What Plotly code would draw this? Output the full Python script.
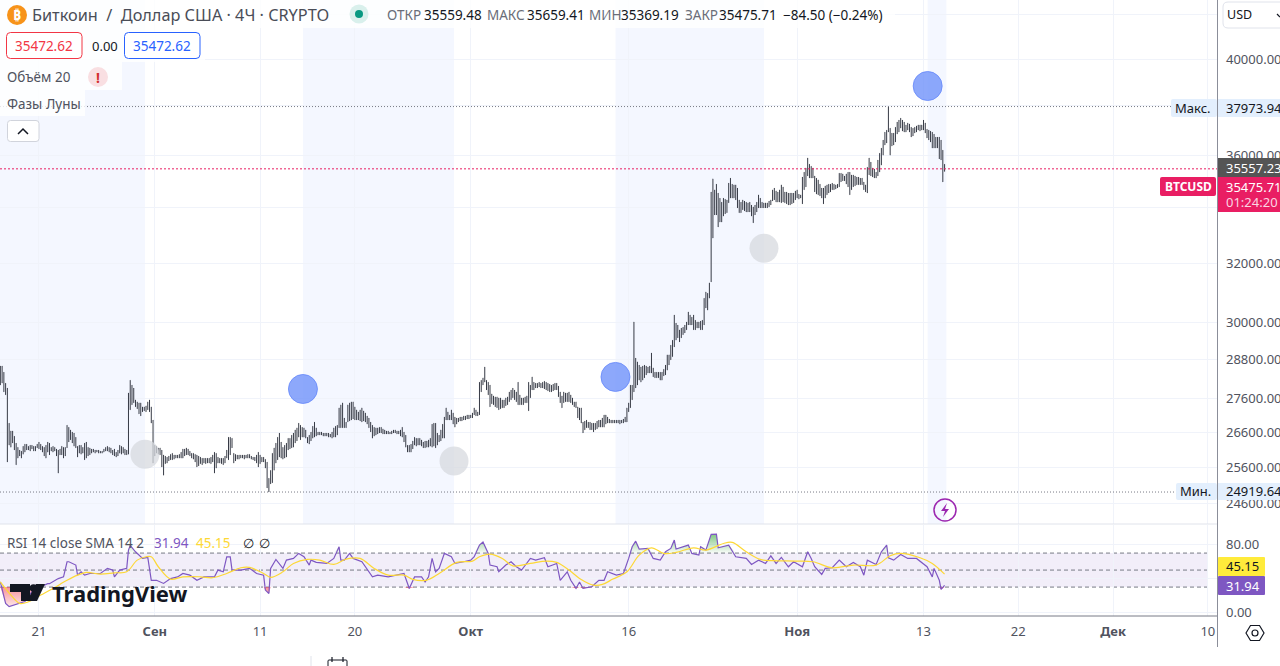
import pandas as pd
import plotly.graph_objects as go

W, H = 1280, 666

# BTCUSD 4h bars, six bars per line (open/close ticks are not legible at this scale)
bar_high = [
    28600, 28600, 28410, 28070, 27920, 26870, 26640, 26640, 26490, 26290, 26170, 26090,
    26060, 26200, 26260, 26260, 26200, 26230, 26230, 26200, 26200, 26260, 26320, 26260,
    26200, 26170, 26230, 26320, 26290, 26170, 26200, 26170, 26120, 26090, 26120, 26200,
    26170, 26170, 26810, 26750, 26670, 26610, 26580, 26460, 26200, 26230, 26230, 26170,
    26290, 26320, 26170, 26150, 26120, 26120, 26090, 26090, 26090, 26060, 26060, 26120,
    26170, 26200, 26170, 26150, 26090, 26120, 26030, 26090, 26230, 26200, 26170, 26120,
    26090, 27770, 28160, 28010, 27920, 27560, 27500, 27470, 27470, 27350, 27350, 27380,
    27500, 27560, 27350, 26960, 26230, 26200, 26150, 26150, 26090, 25950, 25920, 25890,
    25920, 25970, 26000, 25950, 25950, 25950, 25970, 26030, 26120, 26120, 26150, 26120,
    26060, 26000, 26000, 25970, 25950, 25920, 25890, 25860, 25860, 25860, 25860, 25860,
    25890, 25950, 26030, 26000, 25890, 25860, 25860, 25860, 25920, 26090, 26460, 26460,
    26430, 26000, 25970, 25950, 25950, 25950, 25950, 25950, 25950, 25970, 25970, 25920,
    25890, 25890, 25950, 26030, 25950, 25890, 25890, 25830, 25750, 25300, 25520, 26000,
    26150, 26290, 26460, 26580, 26320, 26170, 26230, 26290, 26430, 26430, 26520, 26580,
    26670, 26730, 26870, 26810, 26750, 26730, 26670, 26460, 26520, 26610, 26780, 26900,
    26730, 26610, 26610, 26610, 26580, 26580, 26580, 26580, 26550, 26610, 26730, 26780,
    26810, 27320, 27410, 27470, 27020, 26900, 27410, 27470, 27500, 27500, 27350, 27260,
    27200, 27260, 27320, 27230, 27170, 27080, 27020, 26900, 26810, 26750, 26730, 26730,
    26750, 26750, 26700, 26670, 26640, 26640, 26610, 26640, 26670, 26670, 26640,
    26640, 26670, 26750, 26610, 26520, 26230, 26230, 26260, 26350, 26460, 26430, 26430,
    26430, 26380, 26320, 26350, 26350, 26380, 26430, 26840, 26870, 26870, 26580, 26520,
    26670, 26840, 27050, 27320, 27200, 27110, 27260, 27170, 27050, 27020, 27020, 27050,
    27050, 27080, 27080, 27110, 27110, 27110, 27170, 27320, 27260, 27200, 28100, 28160,
    28230, 28570, 28160, 28100, 28010, 27740, 27680, 27650, 27650, 27620, 27620, 27560,
    27560, 27620, 27650, 27800, 27860, 27920, 27860, 27800, 28100, 27710, 27620, 27620,
    27650, 27680, 28100, 28010, 28260, 28100, 28070, 28070, 28100, 28070, 28100, 28130,
    28100, 28070, 28040, 28010, 28040, 28070, 28070, 27980, 27800, 27680, 27800, 27770,
    27770, 27800, 27710, 27620, 27500, 27500, 27350, 27320, 27320, 26900, 26930, 26960,
    26900, 26900, 26870, 26870, 26870, 26930, 26960, 26960, 27020, 27110, 27110, 27050,
    26990, 26960, 26960, 26960, 26960, 26960, 26960, 26960, 26990, 27050, 27320, 27470,
    28010, 28010, 30010, 28850, 28730, 28630, 28570, 28600, 28630, 28600, 28570, 28600,
    29010, 28540, 28410, 28410, 28410, 28410, 28410, 28500, 28630, 28950, 28950, 29260,
    29420, 30240, 29975, 29910, 29750, 29810, 29840, 29910, 30010, 30340, 30240, 30170,
    30240, 30070, 30010, 30010, 30040, 30070, 30800, 31010, 30970, 31320, 34590, 35090,
    34670, 34890, 34550, 34360, 34210, 34360, 34320, 34290, 34930, 35120, 34890, 34860,
    34860, 34740, 34290, 34210, 34290, 34250, 34210, 34180, 34210, 34100, 34030, 34100,
    34210, 34480, 34360, 34210, 34180, 34180, 34180, 34250, 34290, 34670, 34740, 34630,
    34590, 34670, 34860, 34780, 34590, 34590, 34550, 34550, 34550, 34550, 34630, 34670,
    34510, 34480, 35160, 35350, 35510, 35900, 35660, 35580, 35510, 35200, 35120, 35050,
    34890, 34740, 34740, 34820, 34860, 34890, 34890, 34930, 34890, 34860, 34890, 35310,
    35310, 35280, 35200, 35280, 35350, 35350, 35240, 35240, 35200, 35160, 35160, 35120,
    35120, 34970, 34860, 35540, 35900, 35740, 35510, 35470, 35350, 35820, 36090, 36290,
    36610, 36930, 37010, 37973.94, 37090, 36890, 36890, 37130, 37340, 37420, 37500, 37420,
    37340, 37220, 37300, 37260, 37130, 37090, 37130, 37180, 37220, 37220, 37220, 37420,
    37300, 37050, 37010, 36970, 36930, 36850, 36730, 36730, 36730, 36610, 36210, 35659.41,
]
bar_low = [
    28010, 28070, 27800, 27710, 25750, 26230, 26170, 26290, 26090, 25670, 25860, 25920,
    25860, 25970, 26030, 26090, 26090, 26060, 26120, 26060, 26060, 26150, 26120, 26090,
    26030, 25920, 25860, 26030, 25950, 26060, 26030, 26060, 25920, 25440, 25950, 25950,
    25860, 25920, 26150, 26320, 26380, 26290, 26200, 26150, 25890, 26000, 25970, 26000,
    25810, 25860, 25920, 25950, 26000, 26030, 26000, 26030, 26000, 26000, 26000, 26030,
    26060, 26060, 26030, 26000, 25950, 25920, 25890, 25920, 26000, 25970, 26000, 25950,
    25950, 25970, 27260, 27410, 27470, 27350, 27290, 27140, 27080, 27200, 27230, 27200,
    27260, 27200, 26870, 25720, 25920, 26000, 25970, 25950, 25610, 25380, 25700, 25720,
    25780, 25810, 25810, 25830, 25860, 25860, 25860, 25860, 25860, 25920, 25950, 25950,
    25920, 25860, 25830, 25750, 25610, 25640, 25700, 25670, 25720, 25700, 25720, 25720,
    25700, 25750, 25440, 25580, 25720, 25720, 25700, 25670, 25720, 25860, 25810, 25950,
    26150, 25720, 25780, 25830, 25830, 25860, 25860, 25830, 25860, 25860, 25860, 25830,
    25810, 25780, 25720, 25610, 25700, 25750, 25750, 25580, 25030, 24919.64, 25140, 25170,
    25520, 25720, 25810, 25890, 25860, 25830, 25860, 25890, 26090, 26120, 26150, 26170,
    26290, 26350, 26460, 26380, 26460, 26460, 26430, 26290, 26260, 26350, 26430, 26460,
    26490, 26520, 26520, 26520, 26490, 26490, 26490, 26460, 26460, 26430, 26460, 26460,
    26520, 26730, 26730, 26730, 26730, 26730, 26900, 26930, 26960, 26990, 26960, 26960,
    26960, 26930, 26900, 26930, 26900, 26840, 26730, 26610, 26430, 26490, 26520, 26550,
    26580, 26580, 26550, 26550, 26550, 26550, 26550, 26550, 26580, 26580, 26550,
    26550, 26490, 26460, 26320, 26170, 26030, 26030, 26030, 26120, 26230, 26200, 26230,
    26230, 26200, 26150, 26150, 26170, 26170, 26200, 26170, 26200, 26150, 26230, 26320,
    26350, 26430, 26430, 26960, 26960, 26960, 26960, 26840, 26750, 26840, 26900, 26930,
    26930, 26960, 26960, 26990, 26990, 27020, 27020, 27110, 27080, 27080, 27110, 27800,
    28010, 28100, 27860, 27710, 27350, 27440, 27410, 27350, 27320, 27260, 27290, 27320,
    27320, 27380, 27410, 27500, 27560, 27620, 27560, 27500, 27410, 27410, 27410, 27410,
    27470, 27470, 27230, 27620, 27860, 27860, 27920, 27920, 27950, 27920, 27920, 27890,
    27860, 27830, 27800, 27800, 27830, 27860, 27860, 27650, 27470, 27320, 27470, 27500,
    27500, 27500, 27470, 27410, 27350, 27320, 27020, 26960, 26870, 26580, 26670, 26730,
    26730, 26670, 26670, 26610, 26670, 26700, 26750, 26750, 26750, 26750, 26840, 26870,
    26870, 26870, 26870, 26870, 26870, 26870, 26840, 26870, 26870, 26900, 26900, 27200,
    27320, 27560, 27800, 27920, 28010, 28160, 28100, 28160, 28230, 28320, 28380, 28380,
    28380, 28260, 28230, 28230, 28230, 28160, 28160, 28290, 28320, 28470, 28630, 28790,
    28890, 29200, 29420, 29490, 29360, 29490, 29590, 29650, 29750, 29910, 29910, 29910,
    29750, 29750, 29810, 29810, 29750, 29750, 29910, 30470, 30400, 30800, 31350, 32890,
    33730, 33730, 33290, 33470, 33470, 33690, 33770, 33810, 34180, 34360, 34360, 34360,
    34290, 33990, 33810, 33810, 33920, 33880, 33840, 33840, 33840, 33690, 33440, 33730,
    33840, 33990, 33990, 33990, 33990, 33990, 33990, 34030, 34100, 34250, 34290, 34210,
    34210, 34210, 34180, 34210, 34180, 34140, 34100, 34100, 34140, 34180, 34290, 34360,
    34320, 34360, 34140, 34670, 34780, 35200, 35120, 35120, 35120, 34590, 34510, 34480,
    34440, 34360, 34140, 34360, 34480, 34550, 34590, 34670, 34670, 34700, 34740, 34780,
    34970, 35010, 35010, 34890, 34780, 34480, 34670, 34780, 34820, 34860, 34860, 34860,
    34860, 34670, 34590, 34550, 35240, 35200, 35160, 35120, 35120, 35200, 35350, 35620,
    36010, 36410, 36490, 36930, 36010, 36370, 36410, 36530, 36850, 36930, 37090, 36970,
    36930, 36930, 37010, 36930, 36730, 36770, 36890, 36930, 37010, 36970, 37010, 37010,
    36890, 36690, 36610, 36530, 36290, 36290, 36290, 36290, 35860, 35820, 34970, 35369.19,
]

# RSI and its SMA, sampled where the line turns: index of the 4h bar, then value
rsi_bar = [
    0, 3, 5, 8, 11, 14, 18, 23, 27, 28, 33, 36, 38, 39, 43, 44, 46, 48, 51, 53, 57, 61, 64, 65, 68, 72, 73, 74,
    77, 81, 84, 86, 89, 93, 97, 101, 104, 108, 112, 116, 120, 122, 124, 127, 129, 131, 132, 137, 142, 146, 150,
    151, 153, 154, 157, 159, 161, 163, 167, 170, 173, 176, 177, 180, 186, 190, 193, 194, 196, 199, 201, 206, 208,
    212, 215, 221, 230, 233, 236, 240, 242, 244, 246, 248, 250, 253, 257, 259, 264, 268, 270, 273, 275, 278, 279,
    283, 284, 288, 291, 294, 297, 302, 305, 310, 312, 317, 319, 323, 325, 328, 330, 332, 337, 341, 344, 346, 351,
    355, 358, 360, 362, 364, 369, 372, 376, 379, 382, 384, 385, 392, 394, 398, 399, 402, 405, 408, 409, 415, 419,
    425, 428, 432, 436, 439, 442, 445, 449, 452, 457, 460, 462, 464, 468, 470, 474, 478, 482, 486, 490, 492, 494,
    499, 502, 505, 506, 509, 513, 517, 522, 526, 528, 531, 532, 535, 536, 538,
]
rsi_value = [
    36, 10.8, 7, 9, 10.8, 13, 24.5, 30.4, 34, 34, 40, 42, 59.8, 59.8, 55.9, 44, 48, 44, 46, 46, 46, 52, 50, 42, 50, 52, 73.5, 79,
    71.5, 63.7, 64.9, 38, 38, 34.3, 40, 42, 46, 44, 38, 42, 42, 42, 50, 48, 65.6, 65.6, 50, 50, 52, 46, 44,
    26.5, 22.5, 52, 62.5, 57.8, 52, 61.7, 63.7, 69.6, 65.7, 55.9, 61.7, 59, 57.8, 63.7, 77.4, 61.7, 61.7, 69.6, 63.7, 59.8, 53.9,
    42, 44, 42, 46, 28.4, 42, 42, 36, 42, 63.7, 48, 52, 69.6, 65.7, 57.8, 59.8, 61.7, 65.7, 79.4, 83, 69.6, 55.9,
    53.9, 48, 55.9, 59.8, 53.9, 50, 63.7, 61.7, 64.5, 53.9, 57.8, 38, 48, 38, 28.4, 36, 28.4, 30.4, 38, 38, 48, 44,
    46, 63.7, 77.4, 84, 74.7, 75.5, 63.7, 61.7, 71.5, 75.5, 85.3, 74.7, 79.4, 69.6, 67.6, 77.4, 73.5, 92, 92.3, 76.2, 79.4, 65.7,
    63.7, 56.6, 61.7, 57.8, 66.8, 57.8, 64.9, 53.9, 59.8, 53.9, 71.5, 63.7, 53.9, 44.9, 52, 52.7, 61.7, 53.9, 59, 53.9, 44, 61.7,
    56.6, 71.5, 79.4, 64.5, 61.7, 68.4, 63.7, 63.7, 57.8, 53.9, 42, 52, 38, 27.2, 31.94,
]
sma_bar = [
    0, 6, 11, 16, 23, 30, 38, 44, 49, 57, 65, 72, 78, 83, 86, 90, 97, 104, 114, 121, 129, 137, 142, 150, 154, 161, 167, 175,
    182, 190, 197, 205, 213, 221, 230, 235, 243, 250, 260, 269, 273, 279, 286, 292, 302, 311, 317, 324, 330, 338, 343, 349,
    357, 364, 371, 378, 385, 395, 402, 412, 417, 425, 433, 440, 453, 463, 474, 486, 499, 507, 513, 524, 531, 538,
]
sma_value = [
    36, 20.6, 10.8, 12.7, 20.6, 28.4, 38, 44, 47.2, 45.3, 46.8, 48, 61.7, 65.7, 65.7, 53.9, 39.4, 42.1, 42.1, 41, 46, 52.7, 53.1, 46, 41.4, 48, 57.8, 62.5,
    61.7, 56.6, 62.9, 63.7, 51.9, 44.1, 44.1, 39, 38.2, 46, 59, 60.6, 65.7, 68.8, 63.7, 55, 57.8, 60.6, 59, 50, 40.2, 32.3, 33.1, 39.4,
    48, 67.6, 76.2, 69.6, 70.8, 76.2, 73.5, 81.3, 82.5, 71.5, 62.5, 61, 60.6, 59.8, 52.7, 55.9, 55.9, 66.8, 69.6, 64.5, 57.8, 45.15,
]

# moon phases
new_moon_date = ["2023-09-15 01:40", "2023-10-14 17:55", "2023-11-13 09:27"]
new_moon_price = [27890, 28260, 38837]
full_moon_date = ["2023-08-31 01:35", "2023-09-29 09:57", "2023-10-28 20:24"]
full_moon_price = [25970, 25780, 32530]

last_bar_date = "2023-11-15 04:00"
first_date, last_date = "2023-08-17 07:12", "2023-12-10 20:53"

price_max, price_min = 37973.94, 24919.64
last_close = 35475.71

price_ticks = [42000, 40000, 38000, 36000, 34000, 32000, 30000, 28800, 27600, 26600, 25600, 24600]
# 42000 and 38000 keep their grid line, their labels sit under the USD and max boxes
price_labels = ["", "40000.00", "", "36000.00", "34000.00", "32000.00", "30000.00", "28800.00",
                "27600.00", "26600.00", "25600.00", "24600.00"]
rsi_ticks = [80, 40, 0]
rsi_labels = ["80.00", "", "0.00"]
time_ticks = ["2023-08-21", "2023-09-01", "2023-09-11", "2023-09-20", "2023-10-01", "2023-10-16",
              "2023-11-01", "2023-11-13", "2023-11-22", "2023-12-01", "2023-12-10"]
time_labels = ["21", "<b>Сен</b>", "11", "20", "<b>Окт</b>", "16", "<b>Ноя</b>", "13", "22", "<b>Дек</b>", "10"]

FONT = "Noto Sans"
GRID = "#f0f3fa"
GRAY = "#787b86"
TEXT = "#50535e"
PINK = "#e91e63"
PURPLE = "#7e57c2"
YELLOW = "#fdd835"
BAND = "rgba(41,98,255,0.05)"


def px(x):
    return x / W


def py(y):
    return 1 - y / H


bar_time = pd.date_range("2023-08-17 08:00", periods=len(bar_high), freq="4h")
rsi_time = [bar_time[i] for i in rsi_bar]
sma_time = [bar_time[i] for i in sma_bar]

fig = go.Figure()

fig.add_trace(go.Ohlc(
    x=bar_time, open=bar_low, high=bar_high, low=bar_low, close=bar_high, tickwidth=0.05,
    increasing_line=dict(color="#363a45", width=1), decreasing_line=dict(color="#363a45", width=1),
    xaxis="x", yaxis="y",
))
fig.add_trace(go.Scatter(
    x=new_moon_date, y=new_moon_price, mode="markers", xaxis="x", yaxis="y",
    marker=dict(size=29, color="rgba(112,146,250,0.8)", line=dict(width=1, color="rgba(100,135,250,0.8)")),
))
fig.add_trace(go.Scatter(
    x=full_moon_date, y=full_moon_price, mode="markers", xaxis="x", yaxis="y",
    marker=dict(size=29, color="rgba(215,217,223,0.75)", line=dict(width=0)),
))

# overbought / oversold fill of the RSI
for level, part, ramp in [
    (70, [max(v, 70) for v in rsi_value], [[0, "rgba(76,175,80,0.04)"], [1, "rgba(76,175,80,0.7)"]]),
    (30, [min(v, 30) for v in rsi_value], [[0, "rgba(242,54,69,0.12)"], [1, "rgba(242,54,69,0.55)"]]),
]:
    fig.add_trace(go.Scatter(x=rsi_time, y=[level] * len(rsi_time), mode="lines", line=dict(width=0),
                             xaxis="x2", yaxis="y2"))
    fig.add_trace(go.Scatter(x=rsi_time, y=part, mode="lines", line=dict(width=0), fill="tonexty",
                             fillgradient=dict(type="vertical", colorscale=ramp), xaxis="x2", yaxis="y2"))

fig.add_trace(go.Scatter(x=rsi_time, y=rsi_value, mode="lines", line=dict(color=PURPLE, width=1.2),
                         xaxis="x2", yaxis="y2"))
fig.add_trace(go.Scatter(x=sma_time, y=sma_value, mode="lines", line=dict(color=YELLOW, width=1.2, shape="spline"),
                         xaxis="x2", yaxis="y2"))

shapes = []

# moon bands: from each new moon to the following full moon
main_bottom = py(524)
band_edges = [(first_date, full_moon_date[0]), (new_moon_date[0], full_moon_date[1]),
              (new_moon_date[1], full_moon_date[2]), (new_moon_date[2], last_bar_date)]
for start, end in band_edges:
    shapes.append(dict(type="rect", xref="x", yref="paper", x0=start, x1=end, y0=main_bottom, y1=1,
                       fillcolor=BAND, line_width=0, layer="below"))

# RSI band and its dashed levels
shapes.append(dict(type="rect", xref="x2", yref="y2", x0=first_date, x1="2023-12-10", y0=30, y1=70,
                   fillcolor="rgba(126,87,194,0.1)", line_width=0, layer="below"))
for level in [70, 50, 30]:
    shapes.append(dict(type="line", xref="x2", yref="y2", x0=first_date, x1="2023-12-10", y0=level, y1=level,
                       line=dict(color=GRAY, width=1, dash="4px,3px"), layer="below"))

# max, min and last price lines
shapes.append(dict(type="line", xref="paper", yref="y", x0=0, x1=px(1171), y0=price_max, y1=price_max,
                   line=dict(color=GRAY, width=1, dash="1px,2px")))
shapes.append(dict(type="line", xref="paper", yref="y", x0=0, x1=px(1176), y0=price_min, y1=price_min,
                   line=dict(color=GRAY, width=1, dash="1px,2px")))
shapes.append(dict(type="line", xref="paper", yref="y", x0=0, x1=px(1217), y0=last_close, y1=last_close,
                   line=dict(color=PINK, width=1, dash="2px,2px")))


def box(x0, y0, x1, y1, fill, line=None, r=0, opacity=1):
    if r == 0:
        shapes.append(dict(type="rect", xref="paper", yref="paper", x0=px(x0), x1=px(x1), y0=py(y1), y1=py(y0),
                           fillcolor=fill, line=dict(width=1 if line else 0, color=line or fill), opacity=opacity))
        return
    a, b, c, d = px(x0), px(x1), py(y0), py(y1)
    rx, ry = r / W, r / H
    path = (f"M{a + rx},{c} L{b - rx},{c} Q{b},{c} {b},{c - ry} L{b},{d + ry} Q{b},{d} {b - rx},{d} "
            f"L{a + rx},{d} Q{a},{d} {a},{d + ry} L{a},{c - ry} Q{a},{c} {a + rx},{c} Z")
    shapes.append(dict(type="path", xref="paper", yref="paper", path=path, fillcolor=fill,
                       line=dict(width=1 if line else 0, color=line or fill), opacity=opacity))


def circle(cx, cy, r, fill="rgba(0,0,0,0)", line=None, width=1.5):
    shapes.append(dict(type="circle", xref="paper", yref="paper", x0=px(cx - r), x1=px(cx + r),
                       y0=py(cy + r), y1=py(cy - r), fillcolor=fill,
                       line=dict(width=width if line else 0, color=line or fill)))


def poly(points, fill="rgba(0,0,0,0)", line=None, width=1.5, close=True):
    path = "M" + " L".join(f"{px(x)},{py(y)}" for x, y in points) + (" Z" if close else "")
    shapes.append(dict(type="path", xref="paper", yref="paper", path=path, fillcolor=fill,
                       line=dict(width=width if line else 0, color=line or fill)))


# pane borders
poly([(0, 524), (1217, 524)], line="#e0e3eb", width=1, close=False)
poly([(0, 616), (1217, 616)], line="#787b86", width=1, close=False)
poly([(1217.5, 0), (1217.5, 647)], line="#8b8e99", width=1, close=False)

# legend backgrounds
box(0, 0, 895, 28, "white", opacity=0.8)
box(0, 28, 205, 62, "white", opacity=0.8)
box(0, 62, 122, 90, "white", opacity=0.8)
box(0, 90, 85, 116, "white", opacity=0.8)

# legend widgets
circle(17, 15, 10, fill="#f7931a")
circle(359, 14, 9.5, fill="#d9f0ec")
circle(359, 14, 4, fill="#089981")
box(6.5, 32.5, 82, 58.5, "white", line="#f23645", r=4)
box(124.5, 32.5, 200, 58.5, "white", line="#2962ff", r=4)
circle(98, 77, 10, fill="#f9dfe2")
box(7.5, 120.5, 39, 141.5, "white", line="#d1d4dc", r=3)
poly([(18, 134), (23, 129), (28, 134)], line="#131722", width=1.5, close=False)

# price scale labels
box(1171, 99, 1217, 117, "#e3effd", r=2)
box(1218, 99, 1280, 117, "#e3effd")
box(1176, 483, 1217, 500, "#e3effd", r=2)
box(1218, 483, 1280, 500, "#e3effd")
box(1218, 158, 1280, 177, "#555555")
box(1218, 177, 1280, 212, PINK)
box(1160, 177, 1216, 196, PINK, r=2)
box(1218, 557, 1265, 576, "#ffeb3b", r=1)
box(1218, 576, 1265, 595, PURPLE, r=1)
box(1223, 2, 1290, 28, "white", line="#e0e3eb", r=5)
poly([(1277, 14), (1280, 17)], line="#131722", width=1.2, close=False)

# TradingView logo
poly([(10, 584), (30, 584), (30, 601), (21, 601), (21, 592), (10, 592)], fill="#131722")
circle(33.5, 588, 3.8, fill="#131722")
poly([(36, 584), (45, 584), (37, 601), (27, 601)], fill="#131722")

# lightning badge
circle(945, 510, 11, line="#9c27b0")
poly([(947, 503), (941, 511), (945, 511), (943, 517), (949, 509), (945, 509)], fill="#9c27b0")

# settings hexagon
poly([(1246, 633), (1250.5, 625.5), (1259.5, 625.5), (1264, 633), (1259.5, 640.5), (1250.5, 640.5)],
     line="#131722", width=1.2)
circle(1255, 633, 3, line="#131722", width=1.2)

# bottom toolbar
poly([(311, 656), (311, 666)], line="#e0e3eb", width=1, close=False)
box(328, 660, 347, 672, "white", line="#131722", r=1)
poly([(332, 657), (332, 662)], line="#131722", width=1.2, close=False)
poly([(343, 657), (343, 662)], line="#131722", width=1.2, close=False)

annotations = []


def note(x, y, text, size=13, color=TEXT, anchor="left", font=FONT):
    annotations.append(dict(xref="paper", yref="paper", x=px(x), y=py(y), text=text, showarrow=False,
                            xanchor=anchor, yanchor="middle", align=anchor, borderpad=0, borderwidth=0,
                            font=dict(family=font, size=size, color=color)))


note(17, 15, "<b>₿</b>", 14, "white", "center")
note(32, 15, "Биткоин  /  Доллар США · 4Ч · CRYPTO", 16.3, "#4a4d57")
for x, text, colour in [
    (387, "ОТКР", "#6a6d78"), (424, "35559.48", "#131722"), (487, "МАКС", "#6a6d78"), (527, "35659.41", "#131722"),
    (589, "МИН", "#6a6d78"), (621, "35369.19", "#131722"), (685, "ЗАКР", "#6a6d78"), (719, "35475.71", "#131722"),
    (783, "−84.50 (−0.24%)", "#131722"),
]:
    note(x, 15, text, 13.5, colour)
note(15, 46, "35472.62", 13.5, "#f23645")
note(92, 46, "0.00", 13, "#131722")
note(133, 46, "35472.62", 13.5, "#2962ff")
note(7, 77, "Объём 20", 13.5)
note(98, 77, "<b>!</b>", 14, "#d32f2f", "center")
note(7, 104, "Фазы Луны", 13.5)
note(7, 543, "RSI 14 close SMA 14 2", 13.5)
note(154, 543, "31.94", 13.5, PURPLE)
note(196, 543, "45.15", 13.5, YELLOW)
note(243, 543, "∅", 13, "#131722")
note(259, 543, "∅", 13, "#131722")
note(52, 593, "<b>TradingView</b>", 22, "#131722")

note(1227, 15, "USD", 12.5, "#131722")
note(1211, 108, "Макс.", 13, "#131722", "right")
note(1226, 108, "37973.94", 13, "#131722")
note(1211, 491, "Мин.", 13, "#131722", "right")
note(1226, 491, "24919.64", 13, "#131722")
note(1226, 168, "35557.23", 13, "white")
note(1226, 187, "35475.71", 13, "white")
note(1226, 202, "01:24:20", 13, "#fbd5e2")
note(1188, 187, "<b>BTCUSD</b>", 12, "white", "center")
note(1226, 566, "45.15", 13, "#131722")
note(1226, 586, "31.94", 13, "white")

for x, text in [(17, "1Д"), (47, "5Д"), (82, "1М"), (117, "3М"), (152, "6М"), (187, "YTD"),
                (219, "1Г"), (247, "5Л"), (278, "Все")]:
    note(x, 670, text, 13, "#131722", "center")
note(1162, 670, "05:35:40 (UTC+3)", 13, "#131722")

fig.update_layout(
    width=W, height=H,
    # autoexpand off: the clipped toolbar texts at the bottom must not push the panes up
    margin=dict(l=0, r=0, t=0, b=0, autoexpand=False),
    paper_bgcolor="white", plot_bgcolor="white",
    showlegend=False,
    font=dict(family=FONT, size=12, color=TEXT),
    shapes=shapes,
    annotations=annotations,
    xaxis=dict(domain=[0, 1217 / W], anchor="y", range=[first_date, last_date], rangeslider=dict(visible=False),
               showticklabels=False, tickmode="array", tickvals=time_ticks, gridcolor=GRID, gridwidth=1,
               zeroline=False, showline=False),
    xaxis2=dict(domain=[0, 1217 / W], anchor="y2", matches="x", tickmode="array", tickvals=time_ticks,
                ticktext=time_labels, ticklabelstandoff=6, tickfont=dict(size=13, color=TEXT),
                gridcolor=GRID, gridwidth=1, zeroline=False, showline=False),
    yaxis=dict(domain=[py(524), 1], anchor="x", side="right", type="log", range=[4.38137, 4.63006],
               tickmode="array", tickvals=price_ticks, ticktext=price_labels,
               ticklabelstandoff=8, tickfont=dict(size=13, color=TEXT), gridcolor=GRID, gridwidth=1,
               zeroline=False, showline=False),
    yaxis2=dict(domain=[py(616), py(525)], anchor="x2", side="right", range=[-4, 103],
                tickmode="array", tickvals=rsi_ticks, ticktext=rsi_labels,
                ticklabelstandoff=8, tickfont=dict(size=13, color=TEXT), gridcolor=GRID, gridwidth=1,
                zeroline=False, showline=False),
)

fig.write_html("out.html", config=dict(displayModeBar=False),
               post_script="document.body.style.margin='0';document.body.style.overflow='hidden';")
